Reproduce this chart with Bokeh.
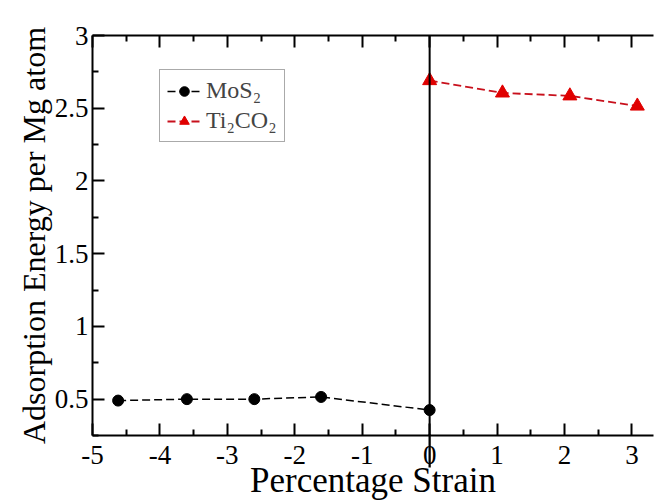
from bokeh.plotting import figure
from bokeh.models import (ColumnDataSource, Range1d, LinearAxis, Legend, LegendItem,
                          Label, Span, FixedTicker, CustomJSTickFormatter)
from bokeh.embed import file_html
from bokeh.resources import INLINE

# Adsorption energy of Mg versus applied strain
mos2_strain = [-4.62, -3.60, -2.60, -1.61, 0.0]
mos2_energy = [0.49, 0.50, 0.50, 0.515, 0.425]

ti2co2_strain = [0.0, 1.08, 2.08, 3.08]
ti2co2_energy = [2.69, 2.605, 2.585, 2.515]

x_ticks = [-5, -4, -3, -2, -1, 0, 1, 2, 3]
y_ticks = [0.5, 1, 1.5, 2, 2.5, 3]

SERIF = "Liberation Serif"
RED = "#e00000"

p = figure(width=655, height=503, output_backend="svg", toolbar_location=None,
           x_range=Range1d(-5, 3.32), y_range=Range1d(0.25, 3.0),
           x_axis_location=None, y_axis_location=None,
           min_border_left=92, min_border_right=0, min_border_top=35, min_border_bottom=68)
p.outline_line_color = None
p.grid.visible = False
p.background_fill_color = "white"
p.border_fill_color = "white"

plain = CustomJSTickFormatter(code="return tick.toString()")


def style_axis(ax):
    ax.axis_line_width = 2
    ax.axis_line_color = "black"
    ax.major_tick_in = 12
    ax.major_tick_out = 0
    ax.minor_tick_in = 6
    ax.minor_tick_out = 0
    ax.major_tick_line_width = 2
    ax.minor_tick_line_width = 2
    ax.major_label_text_font = SERIF
    ax.major_label_text_font_size = "27px"
    ax.major_label_text_color = "black"
    ax.axis_label_text_font = SERIF
    ax.axis_label_text_font_style = "normal"
    ax.axis_label_text_color = "black"


x_minor = [t + 0.5 for t in x_ticks]
y_minor = [t + 0.25 for t in [0.0] + y_ticks]

xb = LinearAxis(ticker=FixedTicker(ticks=x_ticks, minor_ticks=x_minor),
                formatter=plain, axis_label="Percentage Strain")
style_axis(xb)
xb.major_label_standoff = 10
xb.axis_label_standoff = -6
xb.axis_label_text_font_size = "35px"
p.add_layout(xb, "below")

xt = LinearAxis(ticker=FixedTicker(ticks=x_ticks, minor_ticks=x_minor),
                formatter=CustomJSTickFormatter(code="return ''"))
style_axis(xt)
p.add_layout(xt, "above")

yl = LinearAxis(ticker=FixedTicker(ticks=y_ticks, minor_ticks=y_minor),
                formatter=plain, axis_label="Adsorption Energy per Mg atom")
style_axis(yl)
yl.major_label_standoff = 4
yl.axis_label_standoff = 0
yl.axis_label_text_font_size = "32px"
p.add_layout(yl, "left")

# vertical marker at zero strain; a thin box in the side panel continues it
# a little way past the bottom axis
p.add_layout(Span(location=0, dimension="height", line_color="black", line_width=2))
p.add_layout(Label(x=0, y=-32, y_units="screen", text=" ", text_font_size="1px",
                   anchor="bottom_center", background_fill_color="black",
                   padding=(1, 16)), "right")

src_m = ColumnDataSource(dict(x=mos2_strain, y=mos2_energy))
src_t = ColumnDataSource(dict(x=ti2co2_strain, y=ti2co2_energy))

lm = p.line("x", "y", source=src_m, line_color="black", line_width=1.5, line_dash="8 4")
sm = p.scatter("x", "y", source=src_m, marker="circle", size=11,
               fill_color="black", line_color="black")
lt = p.line("x", "y", source=src_t, line_color="#c8101c", line_width=1.8, line_dash="8 4")
st = p.scatter("x", "y", source=src_t, marker="triangle", size=14,
               fill_color=RED, line_color=RED)

legend = Legend(items=[LegendItem(label="MoS\u2082", renderers=[lm, sm]),
                       LegendItem(label="Ti\u2082CO\u2082", renderers=[lt, st])],
                location=(67, 293))
legend.label_text_font = SERIF
legend.label_text_font_size = "24px"
legend.border_line_color = "#555555"
legend.border_line_width = 1.5
legend.glyph_width = 34
legend.glyph_height = 24
legend.spacing = 3
legend.padding = 7
legend.margin = 0
legend.label_standoff = 5
legend.background_fill_alpha = 1.0
p.add_layout(legend, "center")

open("out.html", "w").write(file_html(p, INLINE))
